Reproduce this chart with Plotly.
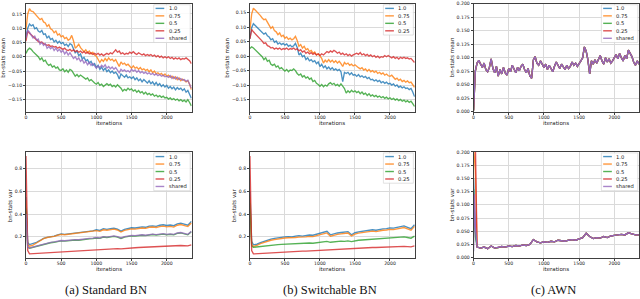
import plotly.graph_objects as go

W, H = 640, 299

# ---------------- data ----------------
ITERS_MEAN = list(range(0, 2351, 25))            # 95 samples
ITERS_VAR = [0, 10, 25] + list(range(50, 2351, 50))  # 50 samples

WIDTHS = ["1.0", "0.75", "0.5", "0.25", "shared"]
COLORS = {"1.0": "#1f77b4", "0.75": "#ff7f0e", "0.5": "#2ca02c",
          "0.25": "#d62728", "shared": "#9467bd"}

X_TICKS = [0, 500, 1000, 1500, 2000]
MEAN_TICKS = [-0.15, -0.10, -0.05, 0.00, 0.05, 0.10, 0.15]
VAR_TICKS = [0.2, 0.4, 0.6, 0.8]
AWN_TICKS = [0.000, 0.025, 0.050, 0.075, 0.100, 0.125, 0.150, 0.175, 0.200]

CAPTIONS = ["(a) Standard BN", "(b) Switchable BN", "(c) AWN"]

# Standard BN, bn-stats mean
std_mean_10 = [
    0.070, 0.100, 0.115, 0.108, 0.112, 0.098, 0.102, 0.090, 0.086, 0.092,
    0.078, 0.080, 0.066, 0.072, 0.060, 0.064, 0.052, 0.058, 0.048, 0.054,
    0.046, 0.050, 0.040, 0.044, 0.036, 0.046, 0.042, 0.030, 0.014, 0.020,
    0.004, 0.010, -0.008, -0.002, -0.014, -0.010, -0.022, -0.016, -0.030, -0.024,
    -0.038, -0.030, -0.044, -0.036, -0.048, -0.040, -0.052, -0.046, -0.056, -0.050,
    -0.058, -0.054, -0.062, -0.078, -0.060, -0.066, -0.072, -0.064, -0.074, -0.070,
    -0.076, -0.070, -0.080, -0.074, -0.084, -0.078, -0.088, -0.080, -0.086, -0.092,
    -0.084, -0.094, -0.088, -0.098, -0.090, -0.100, -0.094, -0.104, -0.098, -0.106,
    -0.100, -0.110, -0.104, -0.112, -0.106, -0.116, -0.108, -0.114, -0.110, -0.118,
    -0.112, -0.124, -0.118, -0.130, -0.145]
std_mean_075 = [
    0.095, 0.150, 0.168, 0.160, 0.158, 0.150, 0.146, 0.138, 0.130, 0.134,
    0.122, 0.118, 0.106, 0.112, 0.098, 0.094, 0.084, 0.090, 0.076, 0.080,
    0.070, 0.074, 0.064, 0.068, 0.058, 0.062, 0.075, 0.056, 0.030, 0.036,
    0.044, 0.032, 0.026, 0.018, 0.024, 0.014, 0.020, 0.010, 0.016, 0.006,
    0.002, -0.008, -0.020, -0.010, -0.016, -0.006, -0.014, -0.004, -0.012, -0.008,
    -0.016, -0.010, -0.020, -0.034, -0.018, -0.026, -0.022, -0.030, -0.026, -0.034,
    -0.040, -0.032, -0.040, -0.036, -0.044, -0.038, -0.046, -0.042, -0.048, -0.044,
    -0.052, -0.046, -0.056, -0.050, -0.060, -0.056, -0.062, -0.058, -0.066, -0.060,
    -0.068, -0.064, -0.072, -0.068, -0.076, -0.070, -0.080, -0.074, -0.084, -0.078,
    -0.082, -0.088, -0.084, -0.096, -0.115]
std_mean_05 = [
    0.012, 0.024, 0.030, 0.026, 0.018, 0.012, 0.006, 0.000, -0.010, -0.004,
    -0.016, -0.012, -0.024, -0.030, -0.026, -0.036, -0.032, -0.040, -0.036, -0.046,
    -0.048, -0.042, -0.052, -0.046, -0.054, -0.044, -0.048, -0.058, -0.068, -0.062,
    -0.070, -0.064, -0.068, -0.072, -0.078, -0.074, -0.084, -0.080, -0.088, -0.092,
    -0.096, -0.090, -0.100, -0.096, -0.104, -0.098, -0.094, -0.100, -0.096, -0.104,
    -0.100, -0.106, -0.098, -0.104, -0.110, -0.120, -0.114, -0.118, -0.110, -0.116,
    -0.112, -0.120, -0.116, -0.124, -0.118, -0.126, -0.122, -0.130, -0.124, -0.132,
    -0.128, -0.134, -0.130, -0.138, -0.134, -0.140, -0.136, -0.142, -0.138, -0.144,
    -0.142, -0.148, -0.144, -0.150, -0.146, -0.152, -0.148, -0.154, -0.150, -0.156,
    -0.152, -0.158, -0.150, -0.160, -0.172]
std_mean_025 = [
    0.055, 0.090, 0.082, 0.076, 0.070, 0.064, 0.060, 0.054, 0.050, 0.052,
    0.046, 0.044, 0.040, 0.042, 0.036, 0.038, 0.034, 0.036, 0.030, 0.034,
    0.030, 0.026, 0.030, 0.024, 0.022, 0.026, 0.020, 0.024, 0.018, 0.022,
    0.016, 0.020, 0.014, 0.018, 0.012, 0.016, 0.010, 0.014, 0.008, 0.012,
    0.008, 0.012, 0.006, 0.010, 0.004, 0.008, 0.012, 0.008, 0.014, 0.010,
    0.018, 0.024, 0.016, 0.020, 0.010, 0.014, 0.008, 0.012, 0.010, 0.016,
    0.012, 0.018, 0.012, 0.008, 0.014, 0.010, 0.006, 0.010, 0.004, 0.008,
    0.004, 0.008, 0.002, 0.006, 0.000, 0.004, -0.002, 0.002, -0.004, 0.000,
    -0.004, 0.000, -0.006, -0.002, -0.008, -0.004, -0.008, -0.004, -0.010, -0.006,
    -0.008, -0.004, -0.010, -0.014, -0.024]
std_mean_shared = [
    0.065, 0.093, 0.086, 0.078, 0.066, 0.072, 0.058, 0.062, 0.044, 0.050,
    0.040, 0.046, 0.030, 0.036, 0.028, 0.034, 0.022, 0.030, 0.020, 0.026,
    0.016, 0.022, 0.010, 0.018, 0.006, 0.014, 0.002, -0.006, 0.000, -0.010,
    -0.004, -0.016, -0.010, -0.022, -0.016, -0.028, -0.020, -0.030, -0.024, -0.034,
    -0.040, -0.032, -0.038, -0.030, -0.036, -0.028, -0.040, -0.034, -0.042, -0.036,
    -0.044, -0.038, -0.046, -0.056, -0.044, -0.050, -0.046, -0.052, -0.048, -0.054,
    -0.044, -0.050, -0.046, -0.054, -0.048, -0.056, -0.052, -0.058, -0.054, -0.060,
    -0.056, -0.062, -0.058, -0.064, -0.060, -0.066, -0.062, -0.068, -0.064, -0.070,
    -0.068, -0.072, -0.066, -0.076, -0.070, -0.078, -0.072, -0.080, -0.076, -0.082,
    -0.080, -0.086, -0.082, -0.094, -0.110]

# Switchable BN, bn-stats mean
sw_mean_10 = [
    0.060, 0.098, 0.112, 0.106, 0.100, 0.094, 0.088, 0.080, 0.076, 0.080,
    0.070, 0.066, 0.056, 0.060, 0.048, 0.052, 0.042, 0.046, 0.040, 0.044,
    0.038, 0.042, 0.034, 0.038, 0.032, 0.036, 0.044, 0.030, 0.004, 0.010,
    -0.002, 0.002, -0.012, -0.006, -0.016, -0.012, -0.020, -0.016, -0.026, -0.020,
    -0.036, -0.028, -0.040, -0.034, -0.044, -0.038, -0.046, -0.040, -0.048, -0.044,
    -0.050, -0.046, -0.054, -0.088, -0.056, -0.060, -0.056, -0.064, -0.058, -0.066,
    -0.064, -0.070, -0.064, -0.072, -0.068, -0.074, -0.070, -0.078, -0.074, -0.082,
    -0.080, -0.086, -0.082, -0.088, -0.084, -0.092, -0.088, -0.094, -0.090, -0.096,
    -0.094, -0.100, -0.096, -0.104, -0.100, -0.108, -0.104, -0.110, -0.106, -0.112,
    -0.110, -0.116, -0.112, -0.124, -0.140]
sw_mean_075 = [
    0.090, 0.145, 0.166, 0.160, 0.154, 0.146, 0.140, 0.132, 0.126, 0.128,
    0.118, 0.110, 0.096, 0.102, 0.088, 0.084, 0.074, 0.080, 0.068, 0.072,
    0.062, 0.066, 0.058, 0.062, 0.056, 0.060, 0.068, 0.054, 0.034, 0.040,
    0.028, 0.034, 0.022, 0.026, 0.016, 0.020, 0.010, 0.014, 0.004, 0.008,
    -0.002, -0.008, -0.024, -0.014, -0.020, -0.012, -0.020, -0.014, -0.022, -0.016,
    -0.024, -0.018, -0.026, -0.036, -0.022, -0.028, -0.024, -0.032, -0.028, -0.034,
    -0.030, -0.036, -0.040, -0.044, -0.040, -0.048, -0.044, -0.052, -0.046, -0.054,
    -0.050, -0.056, -0.052, -0.060, -0.056, -0.062, -0.058, -0.066, -0.062, -0.068,
    -0.070, -0.066, -0.074, -0.080, -0.076, -0.084, -0.080, -0.088, -0.084, -0.090,
    -0.086, -0.092, -0.090, -0.100, -0.108]
sw_mean_05 = [
    0.026, 0.032, 0.028, 0.022, 0.015, 0.010, 0.004, -0.002, -0.012, -0.006,
    -0.018, -0.014, -0.028, -0.032, -0.028, -0.038, -0.034, -0.044, -0.040, -0.048,
    -0.052, -0.046, -0.054, -0.048, -0.050, -0.044, -0.050, -0.060, -0.066, -0.062,
    -0.072, -0.068, -0.076, -0.072, -0.080, -0.076, -0.088, -0.084, -0.094, -0.098,
    -0.104, -0.098, -0.106, -0.100, -0.104, -0.096, -0.092, -0.098, -0.094, -0.102,
    -0.098, -0.104, -0.096, -0.104, -0.112, -0.128, -0.120, -0.126, -0.118, -0.124,
    -0.120, -0.126, -0.122, -0.130, -0.124, -0.132, -0.128, -0.136, -0.130, -0.138,
    -0.134, -0.140, -0.136, -0.142, -0.138, -0.144, -0.140, -0.146, -0.142, -0.148,
    -0.144, -0.150, -0.146, -0.152, -0.148, -0.154, -0.150, -0.156, -0.152, -0.158,
    -0.154, -0.160, -0.156, -0.164, -0.174]
sw_mean_025 = [
    0.060, 0.092, 0.084, 0.078, 0.072, 0.064, 0.058, 0.052, 0.044, 0.046,
    0.036, 0.034, 0.028, 0.030, 0.024, 0.028, 0.024, 0.028, 0.022, 0.026,
    0.024, 0.028, 0.022, 0.026, 0.024, 0.028, 0.022, 0.026, 0.018, 0.022,
    0.014, 0.018, 0.010, 0.014, 0.008, 0.012, 0.006, 0.010, 0.004, 0.008,
    0.002, 0.008, 0.004, 0.012, 0.016, 0.012, 0.018, 0.014, 0.020, 0.016,
    0.010, 0.014, 0.006, 0.010, 0.004, 0.008, 0.002, 0.006, 0.000, 0.004,
    0.006, 0.010, 0.006, 0.012, 0.004, 0.008, 0.002, 0.006, 0.000, 0.004,
    -0.002, 0.002, -0.004, 0.000, -0.006, -0.002, -0.004, 0.002, -0.002, 0.002,
    -0.002, -0.006, -0.002, -0.008, -0.004, -0.010, -0.004, -0.008, -0.004, -0.008,
    -0.006, -0.010, -0.008, -0.014, -0.022]

# AWN, bn-stats mean (all widths coincide)
awn_mean = [
    0.002, 0.075, 0.090, 0.095, 0.088, 0.082, 0.090, 0.078, 0.074, 0.082,
    0.098, 0.080, 0.072, 0.084, 0.066, 0.078, 0.070, 0.082, 0.072, 0.068,
    0.080, 0.074, 0.086, 0.078, 0.072, 0.082, 0.076, 0.084, 0.088, 0.078,
    0.072, 0.080, 0.066, 0.062, 0.096, 0.102, 0.090, 0.086, 0.094, 0.088,
    0.082, 0.088, 0.078, 0.086, 0.080, 0.074, 0.084, 0.092, 0.086, 0.080,
    0.088, 0.082, 0.078, 0.086, 0.080, 0.084, 0.092, 0.086, 0.090, 0.084,
    0.088, 0.094, 0.100, 0.120, 0.112, 0.096, 0.070, 0.094, 0.088, 0.096,
    0.090, 0.098, 0.104, 0.094, 0.088, 0.100, 0.092, 0.098, 0.090, 0.094,
    0.100, 0.106, 0.098, 0.108, 0.100, 0.094, 0.104, 0.098, 0.114, 0.108,
    0.102, 0.092, 0.086, 0.094, 0.088]

# Standard BN, bn-stats var
std_var_10 = [0.55, 0.32, 0.15,
    0.132, 0.140, 0.152, 0.168, 0.186, 0.196, 0.200, 0.206, 0.218, 0.226,
    0.222, 0.226, 0.224, 0.232, 0.236, 0.240, 0.244, 0.246, 0.252, 0.262,
    0.256, 0.272, 0.266, 0.272, 0.276, 0.268, 0.250, 0.266, 0.274, 0.280,
    0.278, 0.284, 0.288, 0.284, 0.294, 0.296, 0.292, 0.302, 0.306, 0.300,
    0.304, 0.298, 0.314, 0.320, 0.314, 0.302, 0.336]
std_var_075 = [0.52, 0.30, 0.13,
    0.118, 0.128, 0.146, 0.164, 0.184, 0.194, 0.198, 0.204, 0.214, 0.222,
    0.218, 0.222, 0.220, 0.228, 0.232, 0.234, 0.238, 0.240, 0.246, 0.254,
    0.248, 0.262, 0.258, 0.264, 0.268, 0.260, 0.242, 0.256, 0.264, 0.270,
    0.268, 0.274, 0.278, 0.274, 0.284, 0.286, 0.282, 0.290, 0.294, 0.288,
    0.292, 0.286, 0.302, 0.308, 0.302, 0.290, 0.322]
std_var_05 = [0.45, 0.26, 0.11,
    0.100, 0.108, 0.118, 0.128, 0.136, 0.142, 0.148, 0.152, 0.160, 0.164,
    0.162, 0.166, 0.168, 0.172, 0.170, 0.176, 0.178, 0.182, 0.184, 0.190,
    0.186, 0.198, 0.194, 0.200, 0.204, 0.198, 0.186, 0.198, 0.204, 0.208,
    0.206, 0.212, 0.214, 0.210, 0.218, 0.220, 0.216, 0.222, 0.224, 0.218,
    0.222, 0.218, 0.230, 0.234, 0.228, 0.218, 0.244]
std_var_025 = [0.91, 0.45, 0.08,
    0.050, 0.052, 0.055, 0.057, 0.060, 0.062, 0.063, 0.066, 0.066, 0.068,
    0.070, 0.070, 0.072, 0.074, 0.076, 0.078, 0.080, 0.082, 0.084, 0.086,
    0.086, 0.090, 0.090, 0.094, 0.094, 0.096, 0.094, 0.098, 0.102, 0.104,
    0.104, 0.106, 0.108, 0.108, 0.112, 0.112, 0.114, 0.116, 0.118, 0.116,
    0.118, 0.120, 0.122, 0.124, 0.122, 0.120, 0.130]
std_var_shared = [0.40, 0.24, 0.11,
    0.102, 0.110, 0.122, 0.132, 0.140, 0.146, 0.152, 0.156, 0.164, 0.168,
    0.166, 0.170, 0.172, 0.176, 0.174, 0.180, 0.182, 0.186, 0.188, 0.194,
    0.190, 0.202, 0.198, 0.204, 0.208, 0.202, 0.190, 0.202, 0.208, 0.212,
    0.210, 0.216, 0.218, 0.214, 0.222, 0.224, 0.220, 0.226, 0.228, 0.222,
    0.226, 0.222, 0.234, 0.238, 0.232, 0.222, 0.248]

# Switchable BN, bn-stats var
sw_var_10 = [0.60, 0.30, 0.16,
    0.130, 0.135, 0.150, 0.162, 0.174, 0.180, 0.186, 0.192, 0.196, 0.200,
    0.202, 0.200, 0.206, 0.210, 0.206, 0.212, 0.216, 0.214, 0.222, 0.228,
    0.236, 0.248, 0.218, 0.228, 0.234, 0.238, 0.240, 0.246, 0.218, 0.236,
    0.244, 0.248, 0.252, 0.256, 0.262, 0.258, 0.266, 0.270, 0.272, 0.278,
    0.276, 0.284, 0.290, 0.296, 0.284, 0.272, 0.306]
sw_var_075 = [0.55, 0.28, 0.13,
    0.116, 0.124, 0.140, 0.152, 0.164, 0.170, 0.176, 0.182, 0.186, 0.190,
    0.192, 0.190, 0.194, 0.198, 0.196, 0.200, 0.204, 0.202, 0.210, 0.216,
    0.222, 0.234, 0.206, 0.216, 0.222, 0.226, 0.228, 0.234, 0.208, 0.224,
    0.232, 0.236, 0.240, 0.244, 0.250, 0.246, 0.254, 0.258, 0.260, 0.266,
    0.264, 0.270, 0.276, 0.282, 0.270, 0.258, 0.292]
sw_var_05 = [0.50, 0.26, 0.12,
    0.108, 0.112, 0.118, 0.122, 0.126, 0.128, 0.130, 0.132, 0.134, 0.136,
    0.138, 0.136, 0.140, 0.142, 0.140, 0.144, 0.146, 0.144, 0.148, 0.150,
    0.154, 0.160, 0.152, 0.156, 0.160, 0.162, 0.160, 0.164, 0.158, 0.166,
    0.170, 0.172, 0.174, 0.176, 0.180, 0.178, 0.182, 0.186, 0.188, 0.190,
    0.188, 0.194, 0.198, 0.200, 0.194, 0.188, 0.206]
sw_var_025 = [0.91, 0.45, 0.08,
    0.050, 0.052, 0.055, 0.057, 0.060, 0.062, 0.063, 0.064, 0.066, 0.067,
    0.068, 0.068, 0.070, 0.072, 0.074, 0.075, 0.077, 0.078, 0.080, 0.082,
    0.084, 0.086, 0.086, 0.088, 0.090, 0.092, 0.092, 0.094, 0.096, 0.098,
    0.100, 0.100, 0.102, 0.104, 0.106, 0.106, 0.108, 0.110, 0.112, 0.112,
    0.112, 0.114, 0.116, 0.116, 0.114, 0.112, 0.120]

# AWN, bn-stats var: first three samples per width, then a shared tail
awn_var_head_10 = [0.15, 0.12, 0.05]
awn_var_head_075 = [0.21, 0.19, 0.165]
awn_var_head_05 = [0.13, 0.10, 0.04]
awn_var_head_025 = [0.21, 0.25, 0.22]
awn_var_head_shared = [0.012, 0.12, 0.06]
awn_var_tail = [
    0.020, 0.018, 0.020, 0.017, 0.022, 0.018, 0.019, 0.021, 0.020, 0.022,
    0.021, 0.023, 0.022, 0.024, 0.023, 0.025, 0.034, 0.030, 0.028, 0.030,
    0.029, 0.031, 0.030, 0.033, 0.032, 0.031, 0.033, 0.034, 0.033, 0.035,
    0.038, 0.046, 0.040, 0.036, 0.038, 0.037, 0.040, 0.038, 0.041, 0.042,
    0.043, 0.044, 0.043, 0.047, 0.045, 0.043, 0.043]

# ---------------- layout helpers ----------------
def fx(px):
    return px / W

def fy(py):
    return 1 - py / H

FONT = "DejaVu Sans"
FS = 5.5        # axis titles
FS_TICK = 4.6   # tick labels
FS_LEG = 5.2    # legend labels

panels = [
    dict(series={"1.0": std_mean_10, "0.75": std_mean_075, "0.5": std_mean_05,
                 "0.25": std_mean_025, "shared": std_mean_shared},
         iters=ITERS_MEAN, box=(25, 191, 1.8, 111.5), yr=[-0.192, 0.1855],
         tv=MEAN_TICKS, tf=".2f", ytitle="bn-stats mean", yt_off=23, awn=False),
    dict(series={"1.0": sw_mean_10, "0.75": sw_mean_075, "0.5": sw_mean_05,
                 "0.25": sw_mean_025},
         iters=ITERS_MEAN, box=(249.3, 414.5, 1.8, 111.5), yr=[-0.192, 0.181],
         tv=MEAN_TICKS, tf=".2f", ytitle="bn-stats mean", yt_off=23, awn=False),
    dict(series={w: awn_mean for w in WIDTHS},
         iters=ITERS_MEAN, box=(473.3, 639.3, 1.8, 111.5), yr=[0, 0.2],
         tv=AWN_TICKS, tf=".3f", ytitle="bn-stats mean", yt_off=22, awn=True),
    dict(series={"1.0": std_var_10, "0.75": std_var_075, "0.5": std_var_05,
                 "0.25": std_var_025, "shared": std_var_shared},
         iters=ITERS_VAR, box=(25, 191, 152.5, 260), yr=[0.017, 0.946],
         tv=VAR_TICKS, tf=".1f", ytitle="bn-stats var", yt_off=16.6, awn=False),
    dict(series={"1.0": sw_var_10, "0.75": sw_var_075, "0.5": sw_var_05,
                 "0.25": sw_var_025},
         iters=ITERS_VAR, box=(249.3, 414.5, 152.5, 260), yr=[0.017, 0.946],
         tv=VAR_TICKS, tf=".1f", ytitle="bn-stats var", yt_off=16.6, awn=False),
    dict(series={"1.0": awn_var_head_10 + awn_var_tail,
                 "0.75": awn_var_head_075 + awn_var_tail,
                 "0.5": awn_var_head_05 + awn_var_tail,
                 "0.25": awn_var_head_025 + awn_var_tail,
                 "shared": awn_var_head_shared + awn_var_tail},
         iters=ITERS_VAR, box=(473.3, 639.3, 152.5, 260), yr=[0, 0.2],
         tv=AWN_TICKS, tf=".3f", ytitle="bn-stats var", yt_off=22, awn=True),
]

fig = go.Figure()
shapes = []
annotations = []
layout = dict(width=W, height=H, margin=dict(l=0, r=0, t=0, b=0),
              paper_bgcolor="white", plot_bgcolor="white", showlegend=False,
              font=dict(family=FONT, size=FS, color="#222222"))

axis_common = dict(showgrid=True, gridcolor="#dadada", gridwidth=0.9,
                   showline=True, linecolor="#404040", linewidth=0.8, mirror=True,
                   ticks="outside", ticklen=2, tickwidth=0.6, tickcolor="#404040",
                   tickfont=dict(family=FONT, size=FS_TICK, color="#222222"),
                   zeroline=False, fixedrange=True)

for i, p in enumerate(panels):
    n = i + 1
    xa = "x" if n == 1 else f"x{n}"
    ya = "y" if n == 1 else f"y{n}"
    l, r, t, b = p["box"]
    for name, vals in p["series"].items():
        op = 1.0 if (p["awn"] and name == "shared") else 0.8
        fig.add_trace(go.Scatter(
            x=p["iters"][:len(vals)], y=vals, mode="lines", name=name,
            line=dict(color=COLORS[name], width=1.35), opacity=op,
            xaxis=xa, yaxis=ya, hoverinfo="skip"))
    layout["xaxis" if n == 1 else f"xaxis{n}"] = dict(
        axis_common, domain=[fx(l), fx(r)], range=[0, 2355], anchor=ya,
        tickvals=X_TICKS, ticklabelstandoff=-1)
    layout["yaxis" if n == 1 else f"yaxis{n}"] = dict(
        axis_common, domain=[fy(b), fy(t)], range=p["yr"], anchor=xa,
        tickvals=p["tv"], tickformat=p["tf"])

    # axis titles
    annotations.append(dict(text="iterations", x=fx((l + r) / 2), y=fy(b + 11.8),
                            xref="paper", yref="paper", showarrow=False,
                            xanchor="center", yanchor="middle",
                            font=dict(family=FONT, size=FS, color="#222222")))
    annotations.append(dict(text=p["ytitle"], x=fx(l - p["yt_off"]), y=fy((t + b) / 2),
                            xref="paper", yref="paper", showarrow=False, textangle=-90,
                            xanchor="center", yanchor="middle",
                            font=dict(family=FONT, size=FS, color="#222222")))

    # legend (drawn by hand: matplotlib-style compact box)
    names = list(p["series"].keys())
    box_w = 36.5 if "shared" in names else 30
    bl = r - 1.5 - box_w
    bt = t + 1
    bb = t + 4.7 + (len(names) - 1) * 7.6 + 4.3
    shapes.append(dict(type="rect", xref="paper", yref="paper", layer="above",
                       x0=fx(bl), x1=fx(r - 1.5), y0=fy(bb), y1=fy(bt),
                       fillcolor="rgba(255,255,255,0.85)",
                       line=dict(color="#cfcfcf", width=0.6)))
    for k, name in enumerate(names):
        yy = t + 4.7 + k * 7.6
        shapes.append(dict(type="line", xref="paper", yref="paper", layer="above",
                           x0=fx(bl + 1.8), x1=fx(bl + 10.5), y0=fy(yy), y1=fy(yy),
                           opacity=0.8, line=dict(color=COLORS[name], width=1.4)))
        annotations.append(dict(text=name, x=fx(bl + 14), y=fy(yy),
                                xref="paper", yref="paper", showarrow=False,
                                xanchor="left", yanchor="middle", borderpad=0,
                                font=dict(family=FONT, size=FS_LEG, color="#222222")))

# captions
for cap, cx in zip(CAPTIONS, [105, 329.7, 553.7]):
    annotations.append(dict(text=cap, x=fx(cx), y=fy(292.5), xref="paper", yref="paper",
                            showarrow=False, xanchor="center", yanchor="middle",
                            font=dict(family="Liberation Serif", size=12.5, color="#111111")))

layout["shapes"] = shapes
layout["annotations"] = annotations
fig.update_layout(**layout)
fig.write_html("out.html", config={"displayModeBar": False},
               post_script="document.body.style.margin='0';document.body.style.overflow='hidden';")
